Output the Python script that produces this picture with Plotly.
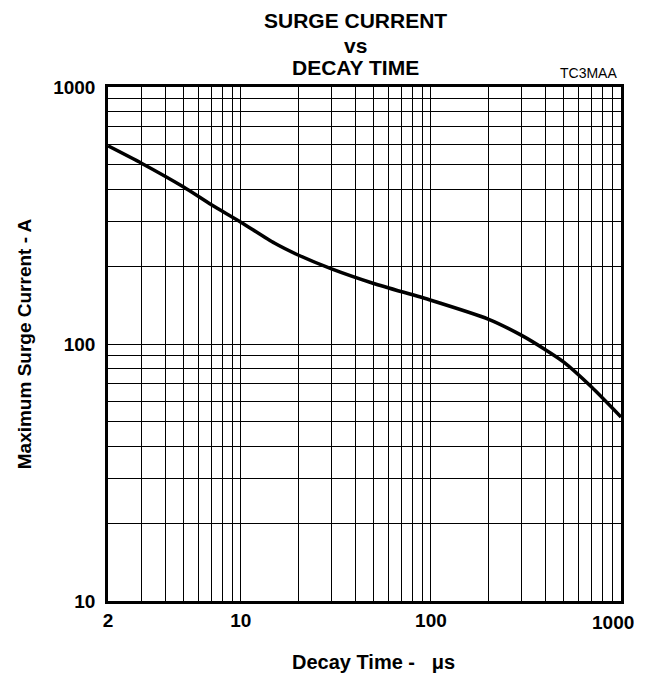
import plotly.graph_objects as go
import numpy as np

decay_time_us = [2, 3, 5, 7, 10, 15, 20, 30, 50, 100, 200, 300, 400, 500, 700, 1000]
surge_current_a = [590, 505, 408, 348, 298, 247, 222, 196, 172, 148, 125, 108, 95, 85, 68, 52]

x_tick_vals = [2, 10, 100]
x_tick_text = ["2", "10", "100"]
x_last_tick_val = 1000
x_last_tick_text = "1000"
y_tick_vals = [10, 100, 1000]
y_tick_text = ["10", "100", "1000"]
x_grid_vals = [3, 4, 5, 6, 7, 8, 9, 20, 30, 40, 50, 60, 70, 80, 90, 200, 300, 400, 500, 600, 700, 800, 900]
y_grid_vals = [20, 30, 40, 50, 60, 70, 80, 90, 200, 300, 400, 500, 600, 700, 800, 900]

title_lines = ["SURGE CURRENT", "vs", "DECAY TIME"]
title_line_y_px = [20, 45, 68]
title_center_x_px = 355
x_title_text = "Decay Time - &nbsp;&nbsp;μs"

FONT = "Liberation Sans, Arial, sans-serif"
TICKFONT = dict(family=FONT, size=19, color="black", weight="bold")
OFF = 8  # default page body margin
W, H = 646 - 2 * OFF, 673 - OFF
ML, MR, MT, MB = 108 - OFF, 25 - OFF, 87 - OFF, 72

fig = go.Figure()
fig.add_trace(go.Scatter(
    x=decay_time_us, y=surge_current_a, mode="lines",
    line=dict(color="black", width=3.5, shape="spline", smoothing=0.6),
    showlegend=False, hoverinfo="skip"))

axis_common = dict(
    type="log", showline=True, mirror=True, linecolor="black", linewidth=2.5,
    showgrid=True, gridcolor="black", gridwidth=1, zeroline=False, automargin=False,
    ticks="", tickfont=TICKFONT,
)

fig.update_xaxes(
    **axis_common,
    range=[np.log10(2), 3],
    tickmode="array", tickvals=x_tick_vals, ticktext=x_tick_text,
    ticklabelstandoff=0,
    minor=dict(tickmode="array", tickvals=x_grid_vals + [x_last_tick_val], showgrid=True,
               gridcolor="black", gridwidth=1, ticks=""),
)
fig.update_yaxes(
    **axis_common,
    range=[1, 3],
    tickmode="array", tickvals=y_tick_vals, ticktext=y_tick_text,
    ticklabelstandoff=6,
    minor=dict(tickmode="array", tickvals=y_grid_vals, showgrid=True, gridcolor="black", gridwidth=1, ticks=""),
    title=dict(text="Maximum Surge Current - A", font=dict(family=FONT, size=19, color="black", weight="bold"), standoff=17),
)

plot_w = W - ML - MR
plot_h = H - MT - MB
annotations = []
for txt, ypx in zip(title_lines, title_line_y_px):
    annotations.append(dict(
        text=txt, xref="paper", yref="paper",
        x=(title_center_x_px - OFF - ML) / plot_w, xanchor="center",
        y=1 + (MT - (ypx - OFF)) / plot_h, yanchor="middle", showarrow=False,
        font=dict(family=FONT, size=21, color="black", weight="bold")))
annotations.append(dict(
    text="TC3MAA", xref="paper", yref="paper", x=1.0, y=1.0, xanchor="right", yanchor="bottom",
    xshift=-2, yshift=4, showarrow=False, font=dict(family=FONT, size=14, color="black")))
# last x tick label, pulled inward so it stays on the page as in the reference
annotations.append(dict(
    text=x_last_tick_text, xref="x", yref="paper", x=np.log10(x_last_tick_val), y=0,
    xanchor="right", xshift=15, yanchor="middle", yshift=-21, showarrow=False, font=TICKFONT))
# x-axis title
annotations.append(dict(
    text=x_title_text, xref="paper", yref="paper", x=(290 - OFF - ML) / plot_w, y=0,
    xanchor="left", yanchor="middle", yshift=-61, showarrow=False,
    font=dict(family=FONT, size=20, color="black", weight="bold")))

fig.update_layout(
    width=W, height=H,
    margin=dict(l=ML, r=MR, t=MT, b=MB, autoexpand=False),
    paper_bgcolor="white", plot_bgcolor="white",
    annotations=annotations,
)

fig.write_html("out.html")
